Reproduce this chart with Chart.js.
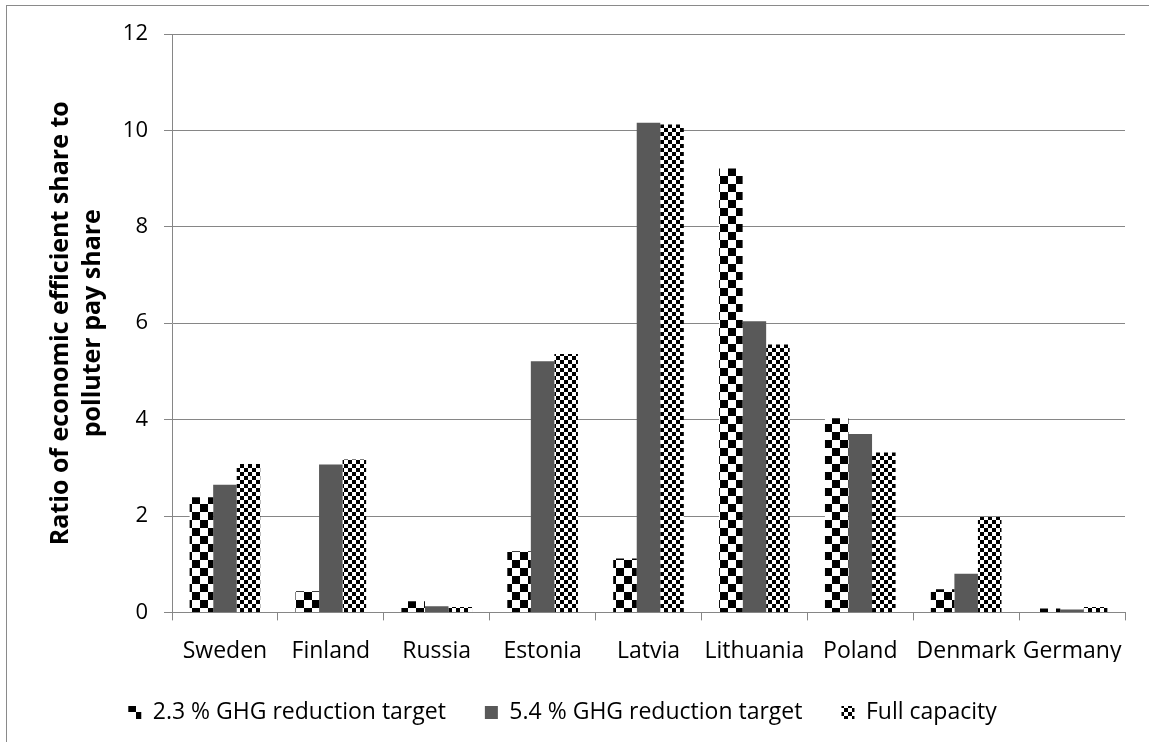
<!DOCTYPE html>
<html>
<head>
<meta charset="utf-8">
<script src="https://cdn.jsdelivr.net/npm/chart.js@4.4.0/dist/chart.umd.min.js"></script>
<style>
  html, body { margin: 0; padding: 0; background: #fff; }
  #wrap { position: relative; width: 1149px; height: 742px; overflow: hidden; }
  #frame { position: absolute; left: 6px; top: 5px; width: 1200px; height: 800px;
           border: 1.5px solid #8a8a8a; box-sizing: border-box; }
  canvas { position: absolute; left: 0; top: 0; }
</style>
</head>
<body>
<div id="wrap">
  <div id="frame"></div>
  <canvas id="c" width="1149" height="742"></canvas>
</div>
<script>
// Ratio of economically efficient share to polluter-pays share, per country
const countries = ['Sweden', 'Finland', 'Russia', 'Estonia', 'Latvia', 'Lithuania', 'Poland', 'Denmark', 'Germany'];
const target23 = [2.39, 0.44, 0.23, 1.27, 1.12, 9.21, 4.03, 0.48, 0.08];
const target54 = [2.65, 3.07, 0.13, 5.21, 10.16, 6.04, 3.70, 0.80, 0.06];
const fullCapacity = [3.08, 3.17, 0.11, 5.36, 10.12, 5.56, 3.32, 1.98, 0.11];
const seriesNames = ['2.3 % GHG reduction target', '5.4 % GHG reduction target', 'Full capacity'];
const yTicks = [0, 2, 4, 6, 8, 10, 12];
const yTitle = ['Ratio of economic efficient share to', 'polluter pay share'];

const FONT = '"Open Sans", "Noto Sans", sans-serif';
const canvas = document.getElementById('c');
const ctx = canvas.getContext('2d');

// black/white checkerboard fill with the given square size
function checker(cell) {
  const tile = document.createElement('canvas');
  tile.width = tile.height = cell * 2;
  const t = tile.getContext('2d');
  t.fillStyle = '#ffffff';
  t.fillRect(0, 0, cell * 2, cell * 2);
  t.fillStyle = '#000000';
  t.fillRect(0, 0, cell, cell);
  t.fillRect(cell, cell, cell, cell);
  return ctx.createPattern(tile, 'repeat');
}

const fills = [checker(8), '#595959', checker(4)];
const seriesData = [target23, target54, fullCapacity];

new Chart(ctx, {
  type: 'bar',
  data: {
    labels: countries,
    datasets: seriesNames.map((name, i) => ({
      label: name,
      data: seriesData[i],
      backgroundColor: fills[i],
      borderWidth: 0,
      categoryPercentage: 0.667,
      barPercentage: 1.0
    }))
  },
  options: {
    responsive: false,
    animation: false,
    devicePixelRatio: 1,
    layout: { padding: { left: 0, top: 34, right: 24, bottom: 8 } },
    plugins: {
      tooltip: { enabled: false },
      legend: {
        position: 'bottom',
        labels: {
          boxWidth: 13,
          boxHeight: 13,
          padding: 39,
          color: '#000',
          font: { family: FONT, size: 23 }
        }
      }
    },
    scales: {
      x: {
        afterFit: (s) => { s.height -= 20; },
        grid: { offset: true, drawOnChartArea: false, drawTicks: true, tickLength: 8, color: '#868686' },
        border: { color: '#868686' },
        ticks: { color: '#000', font: { family: FONT, size: 23 }, padding: 17 }
      },
      y: {
        min: 0,
        max: 12,
        afterFit: (s) => { s.width = 172; },
        afterBuildTicks: (s) => { s.ticks = yTicks.map(v => ({ value: v })); },
        grid: { color: '#868686', tickLength: 8 },
        border: { color: '#868686' },
        ticks: { color: '#000', font: { family: FONT, size: 22 }, padding: 16 },
        title: {
          display: true,
          text: yTitle,
          color: '#000',
          font: { family: FONT, size: 25, weight: 'bold', lineHeight: 1.28 },
          padding: { top: 45, bottom: 0 }
        }
      }
    }
  }
});
</script>
</body>
</html>
